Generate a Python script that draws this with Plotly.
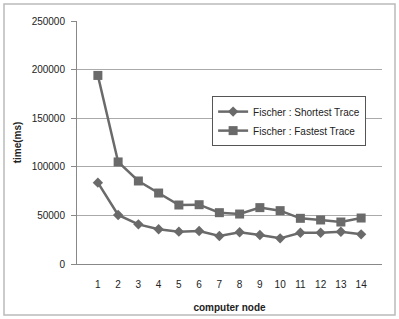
import plotly.graph_objects as go

nodes = [str(i) for i in range(1, 15)]
shortest = [83700, 50400, 40800, 35700, 33300, 34000, 28800, 32600, 29800, 26400, 32200, 32200, 33200, 30500]
fastest = [194000, 105000, 85400, 73000, 60700, 61000, 52800, 51400, 58000, 54900, 47000, 45300, 43200, 47300]
y_ticks = [0, 50000, 100000, 150000, 200000, 250000]

col = "#6a6a6a"
font = "Liberation Sans, Arial, sans-serif"

fig = go.Figure()
fig.add_trace(go.Scatter(x=nodes, y=shortest, mode="lines+markers", name="Fischer : Shortest Trace",
                         line=dict(color=col, width=2.5),
                         marker=dict(symbol="diamond", size=8, color=col)))
fig.add_trace(go.Scatter(x=nodes, y=fastest, mode="lines+markers", name="Fischer : Fastest Trace",
                         line=dict(color=col, width=2.5),
                         marker=dict(symbol="square", size=9, color=col)))

fig.update_layout(
    width=399, height=319,
    margin=dict(l=77, r=17, t=21, b=55, autoexpand=False),
    paper_bgcolor="white", plot_bgcolor="white",
    font=dict(family=font, size=10, color="#222"),
    legend=dict(x=0.443, y=0.588, xanchor="left", yanchor="middle",
                bgcolor="white", bordercolor="#555", borderwidth=1,
                font=dict(size=10, color="#222"), tracegroupgap=0,
                itemwidth=30),
    xaxis=dict(type="category", showgrid=False, showline=True, linecolor="#888",
               linewidth=1, ticks="", automargin=False, ticklabelstandoff=11,
               title=dict(text="<b>computer node</b>", font=dict(size=10), standoff=14),
               tickfont=dict(size=10)),
    yaxis=dict(range=[0, 250000], tickvals=y_ticks, showgrid=True, gridcolor="#aaa",
               gridwidth=1, showline=True, linecolor="#888", linewidth=1, automargin=False,
               ticks="outside", ticklen=5, tickcolor="#888", zeroline=False,
               ticklabelstandoff=4,
               title=dict(text="<b>time(ms)</b>", font=dict(size=10), standoff=8),
               tickformat="d", tickfont=dict(size=10)),
    shapes=[dict(type="rect", xref="paper", yref="paper",
                 x0=(4-77)/305, x1=(395-77)/305, y0=(264-315)/243, y1=(264-4)/243,
                 line=dict(color="#bbb", width=1.5), fillcolor="rgba(0,0,0,0)", layer="below")],
)

fig.write_html("out.html", post_script="document.body.style.margin='0';",
               config={"displayModeBar": False})
